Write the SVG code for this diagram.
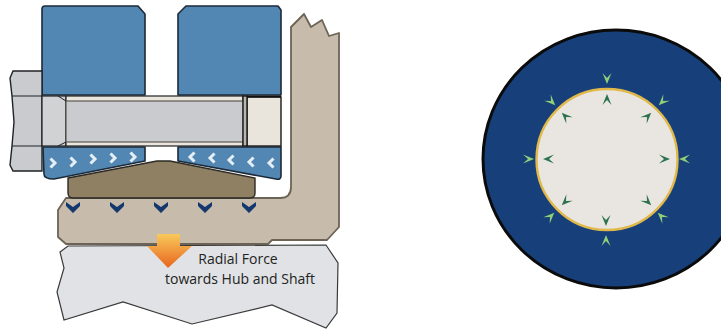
<svg xmlns="http://www.w3.org/2000/svg" width="721" height="331" viewBox="0 0 721 331">
<style>
.b{fill:#5287b3;stroke:#1d2a38;stroke-width:1.6;stroke-linejoin:round}
.g{fill:#c9cbce;stroke:#1f2226;stroke-width:1.4}
.t{fill:#c7bcab;stroke:#6b6355;stroke-width:1.8;stroke-linejoin:round}
.w{fill:none;stroke:#e6eef5;stroke-width:3}
.n{fill:#14386e}
.h1{fill:#8fcf78}
.h2{fill:#2d7350}
text{font-family:"Open Sans","Noto Sans",sans-serif;font-size:14px;fill:#222;text-anchor:middle}
</style>
<defs>
<linearGradient id="og" x1="0" y1="0" x2="0" y2="1"><stop offset="0" stop-color="#f9c95a"/><stop offset="1" stop-color="#e8651f"/></linearGradient>
<path id="cr" d="M-2.500 -4.500L2 0L-2.500 4.500"/>
<path id="cl" d="M2.500 -4.500L-2 0L2.500 4.500"/>
<path id="cd" d="M-7 -5L0 0L7 -5L7 -1L0 6L-7 -1Z"/>
<path id="ch" d="M-4.500 5L0 -6L4.500 5L0 0Z"/>
</defs>
<g id="hub"><path d="M68 246L326 245L338 263L337 313L326 328L272 305L192 324L123 302L64 320L57 292L64 268L60 252Z" fill="#e0e2e5" stroke="#3a3a3a" stroke-width="1.2"/></g>
<g id="flange"><path class="t" d="M291 27L304 14L311 27L322 20L329 36L339 33L339 227L327 240L272 240L268 244L66 244L58 237L58 210L66 198L280 198Q291 198 291 187Z"/></g>
<g id="block-left">
<path class="b" d="M42 9Q42 6 45 6L138 6L145 14L145 95L42 95Z"/>
<path class="b" d="M43 147L145 147L145 161L54 179Q44 179 44 174Z"/>
<g class="w"><use href="#cr" x="53" y="163"/><use href="#cr" x="73" y="162"/><use href="#cr" x="93" y="159"/><use href="#cr" x="113" y="158"/><use href="#cr" x="133" y="157"/></g>
</g>
<g id="block-right">
<path class="b" d="M178 14L186 6L278 6L281 10L281 95L178 95Z"/>
<path class="b" d="M178 147L281 147L281 176Q281 180 276 179L178 161Z"/>
<g class="w"><use href="#cl" x="192" y="157"/><use href="#cl" x="212" y="158"/><use href="#cl" x="231" y="160"/><use href="#cl" x="251" y="162"/><use href="#cl" x="271" y="163"/></g>
</g>
<g id="bolt">
<path class="g" d="M13 71L42 71L42 171L13 171L10 165L12 146L14 122L12 96L10 78Z"/>
<path d="M12 96H42M12 146H42" stroke="#1f2226" stroke-width="1.2" fill="none"/>
<rect x="42" y="96" width="24" height="50" fill="#d0d2d4" stroke="#1f2226" stroke-width="1.2"/>
<rect x="66" y="96" width="177" height="50" fill="#ebe6dc" stroke="#1f2226" stroke-width="1.2"/>
<rect x="66" y="101" width="177" height="41" fill="#c9cbce" stroke="#5a5a55" stroke-width="1.2"/>
<path d="M58 96L66 101M58 146L66 142" stroke="#1f2226" stroke-width="1"/>
<rect x="247" y="97" width="34" height="49" fill="#e9e5dd" stroke="#1a1a1a" stroke-width="1.4"/>
<rect x="243" y="96" width="4" height="50" fill="#b9b6ae" stroke="#1a1a1a" stroke-width="1.4"/>
<path d="M247 96.500H281" stroke="#111" stroke-width="2"/>
</g>
<g id="wedge"><path d="M68 178L157 161L170 161L255 178L255 193Q255 198 250 198L73 198Q68 198 68 193Z" fill="#8f7f63" stroke="#2b2a25" stroke-width="1.4"/></g>
<g id="force-arrows" class="n"><use href="#cd" x="73" y="207"/><use href="#cd" x="117" y="207"/><use href="#cd" x="161" y="207"/><use href="#cd" x="205" y="207"/><use href="#cd" x="249" y="207"/></g>
<g id="radial-arrow"><path d="M157 234L180 234L180 246L192 246L168 268L147 246L157 246Z" fill="url(#og)"/></g>
<g id="label"><text x="238" y="264">Radial Force</text><text x="240" y="284">towards Hub and Shaft</text></g>
<g id="disc">
<ellipse cx="616" cy="159" rx="133" ry="129" fill="#173f7a" stroke="#0b0b0b" stroke-width="3"/>
<circle cx="607" cy="159.500" r="70.500" fill="#e9e6e1" stroke="#e0b94a" stroke-width="2.400"/>
<g class="h1">
<use href="#ch" transform="translate(607,78) rotate(180)"/><use href="#ch" transform="translate(606,241)"/><use href="#ch" transform="translate(528,159) rotate(90)"/><use href="#ch" transform="translate(685,159) rotate(-90)"/>
<use href="#ch" transform="translate(551,101) rotate(135)"/><use href="#ch" transform="translate(663,101) rotate(-135)"/><use href="#ch" transform="translate(550,217) rotate(45)"/><use href="#ch" transform="translate(662,217) rotate(-45)"/>
</g>
<g class="h2">
<use href="#ch" transform="translate(607,100)"/><use href="#ch" transform="translate(606,220) rotate(180)"/><use href="#ch" transform="translate(549,159) rotate(-90)"/><use href="#ch" transform="translate(664,159) rotate(90)"/>
<use href="#ch" transform="translate(566,117) rotate(-45)"/><use href="#ch" transform="translate(647,117) rotate(45)"/><use href="#ch" transform="translate(566,201) rotate(-135)"/><use href="#ch" transform="translate(647,201) rotate(135)"/>
</g>
</g>
</svg>
